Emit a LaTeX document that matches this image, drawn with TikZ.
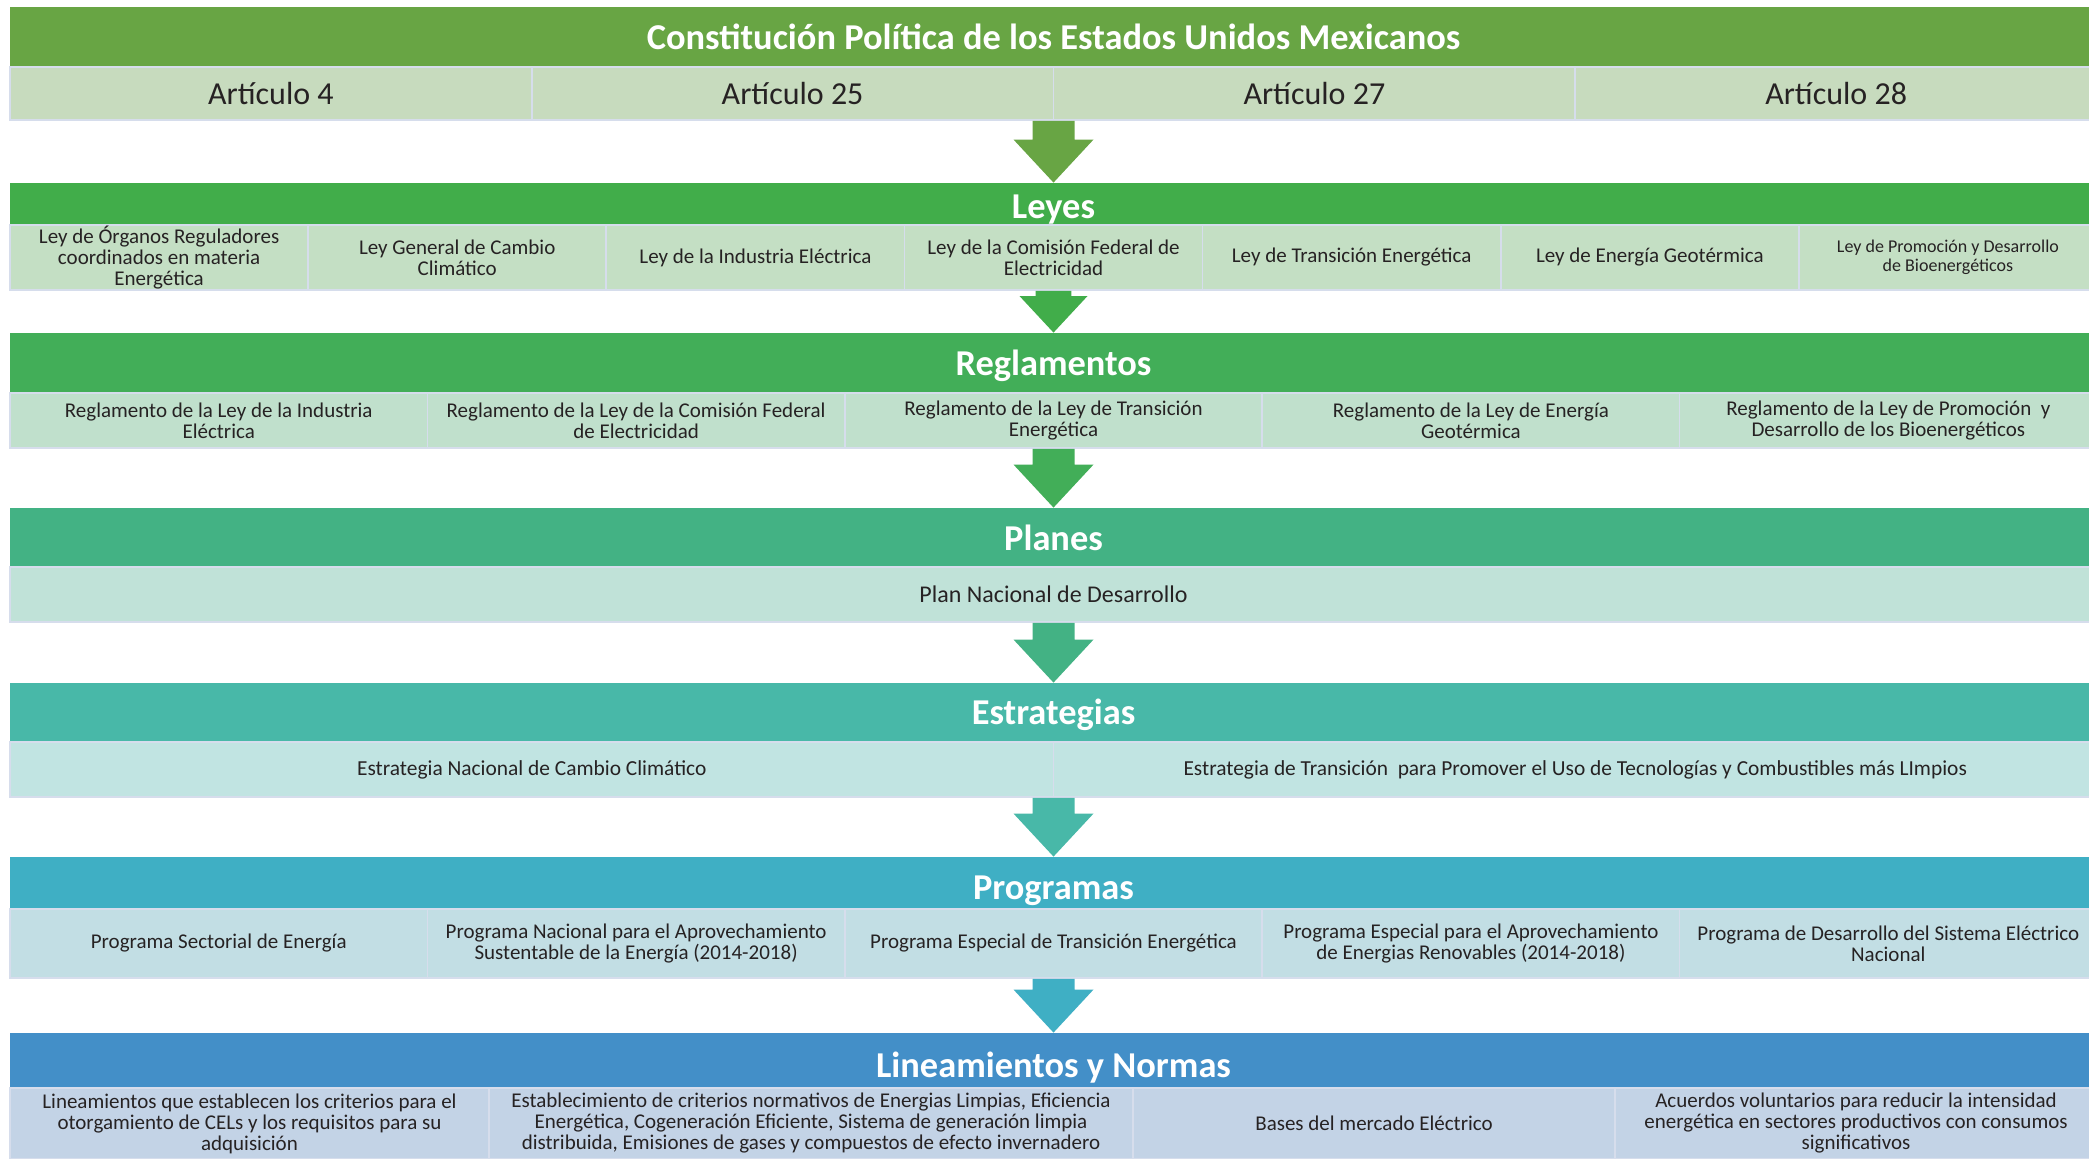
\documentclass[tikz,border=0pt]{standalone}
\usepackage{fontspec}
\setmainfont{Carlito}
\usepackage{tikz}
\usetikzlibrary{calc}
\definecolor{cTitle}{RGB}{104,165,68}
\definecolor{cArt}{RGB}{199,219,190}
\definecolor{cLeyes}{RGB}{65,173,74}
\definecolor{cLeyesRow}{RGB}{196,223,196}
\definecolor{cRegl}{RGB}{66,174,88}
\definecolor{cReglRow}{RGB}{192,224,204}
\definecolor{cPlan}{RGB}{67,178,132}
\definecolor{cPlanRow}{RGB}{192,226,216}
\definecolor{cEstr}{RGB}{72,184,168}
\definecolor{cEstrRow}{RGB}{193,228,226}
\definecolor{cProg}{RGB}{63,175,196}
\definecolor{cProgRow}{RGB}{194,222,228}
\definecolor{cLin}{RGB}{67,143,200}
\definecolor{cLinRow}{RGB}{195,211,230}
\definecolor{cellline}{RGB}{214,221,236}
\definecolor{txt}{RGB}{38,34,35}
\tikzset{
  band/.style={minimum width=1043.5pt, inner sep=0pt, text=white, font=\bfseries\fontsize{18.2}{20}\selectfont},
  cell/.style={draw=cellline, line width=0.8pt, align=center, inner sep=1pt, text=txt, font=\fontsize{10.5}{10.5}\selectfont},
  artcell/.style={cell, fill=cArt, minimum width=260.875pt, minimum height=26.5pt, font=\fontsize{16}{18}\selectfont},
  leycell/.style={cell, fill=cLeyesRow, minimum width=149.07pt, minimum height=32.5pt},
  reglcell/.style={cell, fill=cReglRow, minimum width=208.7pt, minimum height=27.5pt},
  progcell/.style={cell, fill=cProgRow, minimum width=208.7pt, minimum height=34.5pt},
  lincell/.style={cell, fill=cLinRow, minimum height=35.5pt}
}
% flecha de bloque: [escala]{fila de arriba}{banda de abajo}{color}
\newcommand{\flecha}[4][1]{%
  \fill[#4] let \p1=(#3.north), \p2=(#2.south) in
    (\x1-10.5pt*#1,\y2) -- (\x1+10.5pt*#1,\y2) -- (\x1+10.5pt*#1,\y1+21.5pt*#1)
    -- (\x1+20pt*#1,\y1+21.5pt*#1) -- (\x1,\y1) -- (\x1-20pt*#1,\y1+21.5pt*#1)
    -- (\x1-10.5pt*#1,\y1+21.5pt*#1) -- cycle;}
% baja el titulo de una banda sin cambiar su caja
\newcommand{\bajar}[2]{\raisebox{-#1}[\height][\depth]{#2}}

\begin{document}
\begin{tikzpicture}[x=0.5pt, y=-0.5pt]
\path[use as bounding box] (0,0) rectangle (2089,1159);
\clip (0,0) rectangle (2089,1159);

\node[band, fill=cTitle, minimum height=30pt] (cpeum) at (1053.5,37) {Constitución Política de los Estados Unidos Mexicanos};
\node[artcell] (art4) at (270.9,93.5) {Artículo 4};
\node[artcell] (art25) at (792.6,93.5) {Artículo 25};
\node[artcell] (art27) at (1314.4,93.5) {Artículo 27};
\node[artcell] (art28) at (1836.1,93.5) {Artículo 28};

\node[band, fill=cLeyes, minimum height=21pt] (leyes) at (1053.5,204) {\bajar{2.7pt}{Leyes}};
\node[leycell, inner ysep=0pt] (lorganos) at (159.1,257.5) {Ley de Órganos Reguladores\\coordinados en materia\\Energética};
\node[leycell] (lcambio) at (457.2,257.5) {Ley General de Cambio\\Climático};
\node[leycell] (lindustria) at (755.4,257.5) {Ley de la Industria Eléctrica};
\node[leycell] (lcfe) at (1053.5,257.5) {Ley de la Comisión Federal de\\Electricidad};
\node[leycell] (ltransicion) at (1351.6,257.5) {Ley de Transición Energética};
\node[leycell] (lgeo) at (1649.8,257.5) {Ley de Energía Geotérmica};
\node[leycell, font=\fontsize{9}{9.5}\selectfont] (lbio) at (1947.9,257.5) {Ley de Promoción y Desarrollo\\de Bioenergéticos};

\node[band, fill=cRegl, minimum height=30pt] (regl) at (1053.5,363) {\bajar{1.3pt}{Reglamentos}};
\node[reglcell] (rindustria) at (218.7,420.5) {Reglamento de la Ley de la Industria\\Eléctrica};
\node[reglcell] (rcfe) at (636.1,420.5) {Reglamento de la Ley de la Comisión Federal\\de Electricidad};
\node[reglcell] (rtransicion) at (1053.5,420.5) {Reglamento de la Ley de Transición\\Energética};
\node[reglcell] (rgeo) at (1470.9,420.5) {Reglamento de la Ley de Energía\\Geotérmica};
\node[reglcell] (rbio) at (1888.3,420.5) {Reglamento de la Ley de Promoción\ \ y\\Desarrollo de los Bioenergéticos};

\node[band, fill=cPlan, minimum height=29.5pt] (planes) at (1053.5,537.5) {Planes};
\node[cell, fill=cPlanRow, minimum width=1043.5pt, minimum height=27.5pt, font=\fontsize{12}{13}\selectfont] (pnd) at (1053.5,594.5) {Plan Nacional de Desarrollo};

\node[band, fill=cEstr, minimum height=29.5pt] (estr) at (1053.5,712.5) {\bajar{1.4pt}{Estrategias}};
\node[cell, fill=cEstrRow, minimum width=521.75pt, minimum height=27.5pt, font=\fontsize{10.7}{11}\selectfont] (enacc) at (531.75,769.5) {Estrategia Nacional de Cambio Climático};
\node[cell, fill=cEstrRow, minimum width=521.75pt, minimum height=27.5pt, font=\fontsize{10.7}{11}\selectfont] (etransicion) at (1575.25,769.5) {Estrategia de Transición\ \ para Promover el Uso de Tecnologías y Combustibles más LImpios};

\node[band, fill=cProg, minimum height=26pt] (prog) at (1053.5,883) {\bajar{4pt}{Programas}};
\node[progcell] (psectorial) at (218.7,943.5) {Programa Sectorial de Energía};
\node[progcell] (pnase) at (636.1,943.5) {Programa Nacional para el Aprovechamiento\\Sustentable de la Energía (2014-2018)};
\node[progcell] (petransicion) at (1053.5,943.5) {Programa Especial de Transición Energética};
\node[progcell] (perenov) at (1470.9,943.5) {Programa Especial para el Aprovechamiento\\de Energias Renovables (2014-2018)};
\node[progcell] (pdsen) at (1888.3,943.5) {Programa de Desarrollo del Sistema Eléctrico\\Nacional};

\node[band, fill=cLin, minimum height=27.5pt] (lin) at (1053.5,1060.5) {\bajar{3.3pt}{Lineamientos y Normas}};
\node[lincell, minimum width=239.5pt] (lincel) at (249.5,1123.5) {Lineamientos que establecen los criterios para el\\otorgamiento de CELs y los requisitos para su\\adquisición};
\node[lincell, minimum width=322pt] (lincrit) at (811,1123.5) {Establecimiento de criterios normativos de Energias Limpias, Eficiencia\\Energética, Cogeneración Eficiente, Sistema de generación limpia\\distribuida, Emisiones de gases y compuestos de efecto invernadero};
\node[lincell, minimum width=241pt] (linbases) at (1374,1123.5) {Bases del mercado Eléctrico};
\node[lincell, minimum width=241pt] (linacuerdos) at (1856,1123.5) {Acuerdos voluntarios para reducir la intensidad\\energética en sectores productivos con consumos\\significativos};

\flecha{art25}{leyes}{cTitle}
\flecha[0.85]{lcfe}{regl}{cLeyes}
\flecha{rtransicion}{planes}{cRegl}
\flecha{pnd}{estr}{cPlan}
\flecha{enacc}{prog}{cEstr}
\flecha{petransicion}{lin}{cProg}
\end{tikzpicture}
\end{document}
